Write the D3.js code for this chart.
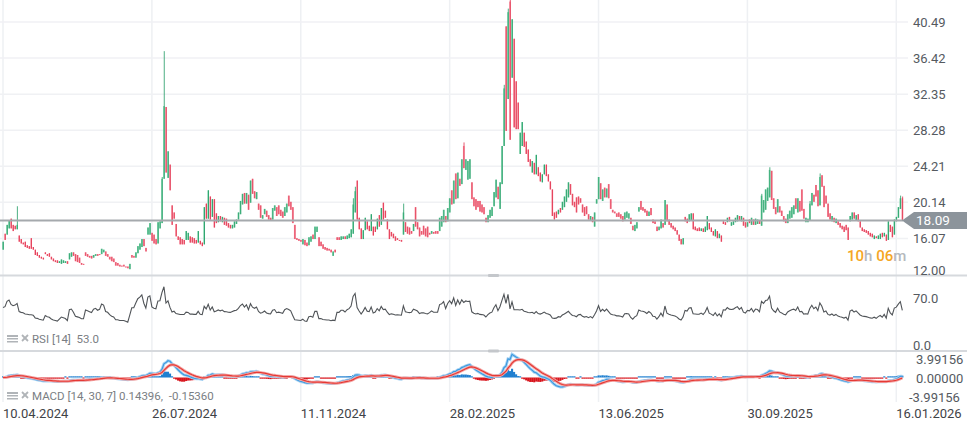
<!DOCTYPE html>
<html><head><meta charset="utf-8">
<script src="https://cdn.jsdelivr.net/npm/d3@7"></script>
<style>
html,body{margin:0;padding:0;background:#fff;overflow:hidden;}
svg{display:block;font-family:Roboto,"Noto Sans",sans-serif;}
</style>
</head><body>
<svg id="chart" width="967" height="427"></svg>
<script>
// ---- DATA (daily candles) ----
const openP = [
14.8,16.6,16.5,17.2,18.3,17.6,17.5,17.1,16.4,16.0, 15.6,15.7,15.3,15.2,16.1,15.1,14.8,14.5,14.2,14.0,
13.9,14.5,14.3,14.4,14.0,13.8,13.6,13.6,13.3,13.2, 13.3,13.3,13.5,13.7,14.0,14.5,14.3,14.2,13.9,13.3,
13.2,14.5,14.3,14.1,14.1,13.9,14.1,14.3,14.3,14.3, 14.5,14.6,14.3,14.0,14.0,13.8,13.4,13.3,13.1,13.0,
13.1,12.9,12.9,12.6,14.2,14.1,13.9,14.4,14.8,15.1, 16.0,15.0,16.5,16.5,16.7,16.5,16.0,15.5,17.2,17.8,
22.8,30.9,22.9,24.4,19.8,19.0,17.7,16.3,16.2,16.0, 15.9,15.9,15.9,16.3,16.2,16.1,15.9,15.6,15.8,15.6,
15.4,20.0,18.3,20.8,18.5,20.5,18.9,17.9,18.6,17.9, 18.4,18.3,17.8,17.6,17.2,17.3,17.7,18.2,18.8,19.9,
21.2,20.0,21.0,20.1,22.8,21.4,20.5,20.0,19.8,18.3, 18.8,19.2,18.7,18.4,18.2,19.2,19.6,19.8,19.3,19.1,
18.6,19.0,20.9,20.2,19.6,17.6,16.1,16.0,15.9,15.4, 15.9,15.6,15.3,15.7,16.5,16.0,16.8,16.2,15.7,15.4,
15.1,15.0,14.9,14.8,14.1,14.8,16.2,16.2,15.9,16.0, 16.3,16.0,16.1,16.2,16.6,19.0,22.6,18.4,17.2,16.0,
17.0,18.0,17.5,16.9,17.4,17.4,17.1,18.7,17.6,20.1, 19.2,18.2,17.1,16.8,16.6,16.3,16.1,15.9,15.9,16.5,
17.9,17.4,17.3,16.9,16.9,19.6,17.9,17.3,16.9,17.5, 17.2,17.4,16.7,16.6,16.8,16.9,16.9,16.9,17.4,17.9,
18.6,18.0,19.0,21.5,20.0,23.4,20.6,22.8,22.2,26.5, 23.8,22.7,22.8,22.4,20.7,20.5,20.3,20.3,19.9,19.6,
18.4,17.9,18.4,18.6,19.7,20.7,21.9,19.4,22.2,26.5, 40.0,31.8,42.8,34.2,38.6,33.8,31.4,25.6,26.5,28.0,
27.0,26.1,25.0,23.5,24.6,23.3,24.1,23.5,22.4,23.3, 24.4,23.3,22.5,21.6,19.0,19.1,18.8,19.5,19.3,19.6,
20.2,20.7,22.2,21.1,20.2,20.7,20.8,20.6,19.9,19.6, 19.7,18.8,18.1,18.5,17.4,20.0,20.5,22.3,20.3,21.8,
20.7,22.2,20.5,19.3,19.1,18.9,19.0,18.8,18.6,18.2, 18.4,18.3,18.4,17.5,16.9,17.2,19.1,20.3,19.6,19.4,
19.2,18.6,19.5,18.2,18.0,17.4,17.0,17.2,17.8,17.6, 19.9,18.2,17.8,17.5,17.3,17.0,16.5,16.0,15.4,18.5,
18.3,18.0,18.1,18.9,17.4,17.2,17.3,16.9,17.2,16.8, 17.0,17.8,17.3,16.9,16.3,16.9,16.1,16.4,18.0,17.9,
17.9,18.5,17.5,17.6,17.9,18.0,18.6,18.0,18.4,17.9, 17.4,18.2,17.6,18.2,17.6,17.7,18.1,17.5,19.0,19.3,
20.3,20.7,23.7,20.6,19.6,19.0,19.7,19.2,18.6,18.3, 17.8,18.3,18.4,18.8,20.6,19.0,20.3,21.6,19.4,17.9,
17.9,18.1,19.8,21.0,22.1,21.5,19.8,23.2,22.0,20.9, 20.0,18.9,18.0,18.4,17.8,18.0,17.8,17.5,17.4,17.6,
17.3,18.0,18.2,19.0,18.1,18.8,18.0,17.3,17.1,17.0, 16.9,16.7,16.6,16.0,16.3,16.0,16.0,16.7,16.3,16.5,
15.9,17.6,17.4,16.5,18.0,18.4,19.4,20.6
];
const closeP = [
15.7,15.9,17.6,18.1,17.2,16.9,17.1,17.6,15.7,15.5, 15.4,15.1,15.0,14.9,14.9,14.8,14.2,14.1,13.9,13.8,
13.7,14.3,14.1,14.0,13.7,13.5,13.4,13.3,13.5,13.7, 13.6,13.5,13.2,14.4,14.5,14.1,13.5,13.4,13.3,13.1,
13.1,14.1,14.0,13.9,13.8,14.2,14.3,14.1,14.2,14.9, 14.8,14.1,14.0,13.7,13.5,13.4,13.0,13.0,12.9,12.9,
12.9,12.8,12.7,13.2,13.9,13.9,14.5,15.2,15.5,16.0, 15.2,14.6,17.3,17.8,15.8,15.5,15.4,17.9,18.0,22.8,
31.0,23.5,25.9,21.5,17.6,18.3,16.3,15.9,15.4,15.4, 15.4,16.9,16.7,15.6,15.6,15.5,15.5,16.9,15.4,15.2,
19.6,18.3,21.5,18.2,20.5,17.3,17.8,18.6,18.0,18.5, 17.6,17.5,17.3,17.2,17.6,18.0,18.2,19.0,20.3,21.1,
20.0,21.2,19.3,22.6,21.1,20.6,21.3,19.3,18.4,18.7, 19.4,18.5,18.2,18.1,19.5,19.8,18.6,18.8,18.6,18.4,
19.6,20.0,19.7,19.3,17.8,16.0,15.9,15.8,15.7,16.0, 15.3,15.2,16.2,16.3,16.0,17.4,17.4,15.2,15.2,14.9,
14.8,14.7,14.7,14.5,14.6,14.5,15.9,15.9,16.3,16.3, 16.0,16.4,16.6,17.1,19.9,21.4,18.2,17.1,16.0,17.0,
18.4,17.1,16.9,18.8,16.4,16.8,18.3,17.4,19.5,18.2, 18.4,17.1,16.0,16.3,16.1,15.8,15.9,15.8,15.7,19.0,
16.8,16.6,16.5,16.6,17.7,17.4,17.1,16.3,16.5,16.5, 16.3,16.2,16.5,16.9,16.6,16.6,16.6,18.4,18.6,19.3,
17.9,19.5,20.6,19.9,22.6,20.5,23.5,22.0,25.0,24.0, 25.0,24.8,25.0,20.5,19.7,19.3,19.6,19.1,19.0,18.8,
17.9,18.7,19.3,19.6,21.3,22.7,20.5,22.4,26.5,33.0, 28.2,41.6,27.2,40.8,28.6,28.4,28.4,28.0,29.2,26.4,
25.6,24.7,24.2,24.8,23.3,25.5,23.1,22.5,23.3,24.4, 23.1,22.5,21.6,18.6,18.2,18.4,19.3,19.0,20.2,20.8,
21.6,22.4,21.0,19.8,19.6,19.0,19.9,20.1,19.0,18.6, 18.8,18.2,18.6,17.9,19.0,20.5,23.0,20.5,21.6,20.7,
21.7,20.6,19.4,19.0,18.9,18.5,18.5,18.3,18.0,19.0, 19.1,18.9,17.7,17.0,17.6,17.9,19.6,19.3,19.2,19.0,
18.6,19.1,18.7,17.8,17.7,16.9,17.4,18.2,17.3,20.4, 18.0,17.6,17.3,17.1,16.9,16.5,15.8,15.4,16.1,18.0,
17.8,18.8,18.9,17.1,17.0,16.9,16.9,17.2,16.8,17.4, 18.6,17.1,16.8,16.4,17.1,16.1,16.6,15.7,17.7,17.6,
18.4,18.0,17.9,18.0,18.4,18.7,18.1,18.6,17.5,17.3, 17.9,17.8,18.4,17.6,18.3,18.2,17.7,20.9,20.4,21.6,
21.8,23.8,20.4,19.4,18.8,20.5,19.0,18.6,18.0,17.8, 18.8,19.2,19.6,19.8,19.4,20.6,19.1,19.2,18.3,18.4,
18.3,20.0,21.2,20.2,20.8,19.7,23.0,21.9,19.6,20.0, 18.5,18.2,18.6,17.9,18.3,17.6,17.3,17.1,16.8,17.0,
15.9,18.6,19.0,18.3,18.7,18.0,17.3,16.9,16.8,16.7, 16.5,16.3,16.2,16.4,16.1,16.4,16.6,16.2,16.7,15.8,
18.0,16.8,16.2,18.2,18.5,19.6,20.6,18.09
];
// upper wicks visible beyond the bodies: [candle index, high]
const wickHighs = [[7,19.7],[79,23.0],[80,37.2],[174,20.6],[175,21.9],[199,20.0],[229,26.9],
  [249,33.4],[251,42.0],[252,43.6],[377,21.1],[381,24.1],[401,20.3],[406,23.4],[446,20.9],[447,20.8]];

const priceTicks = [12.00,16.07,20.14,24.21,28.28,32.35,36.42,40.49];
const priceLabels = ["12.00","16.07","20.14","24.21","28.28","32.35","36.42","40.49"];
const dateTickIdx = [0,74,148,222,296,370,444];
const dateLabels = ["10.04.2024","26.07.2024","11.11.2024","28.02.2025","13.06.2025","30.09.2025","16.01.2026"];
const lastPrice = 18.09, lastLabel = "18.09";
const rsiTicks = [70,0], rsiLabels = ["70.0","0.0"];
const rsiStart = 56;               // RSI level shown at the left edge
const macdRange = 3.99156;          // MACD panel half-range
const macdTicks = [3.99156,0,-3.99156], macdLabels = ["3.99156","0.00000","-3.99156"];
const rsiLegend = "RSI [14]  53.0";
const macdLegend = "MACD [14, 30, 7] 0.14396,  -0.15360";
const countdown = [["10","#f5a623"],["h ","#b5b9bd"],["06","#f5a623"],["m","#b5b9bd"]];

// ---- INDICATORS derived from the close series ----
function ema(arr, n){ const k=2/(n+1); let e=arr[0]; return arr.map((v,i)=> (e = i===0 ? v : v*k + e*(1-k))); }
function rsi(c, n, start){
  // Wilder smoothing, seeded so that the first value equals `start`
  let g=0.3*start/50, l=0.3*(100-start)/50;
  const out=[start];
  for(let i=1;i<c.length;i++){
    const d=c[i]-c[i-1], up=Math.max(d,0), dn=Math.max(-d,0);
    g=(g*(n-1)+up)/n; l=(l*(n-1)+dn)/n;
    out.push(l===0 ? 100 : 100 - 100/(1+g/l));
  }
  return out;
}
const rsiVals = rsi(closeP, 14, rsiStart);
const e14 = ema(closeP,14), e30 = ema(closeP,30);
const macd = e14.map((v,i)=>v-e30[i]);
const signal = ema(macd,7);
const hist = macd.map((v,i)=>v-signal[i]);

// ---- SCALES ----
const W=967, plotR=905;
const x = d3.scaleLinear().domain([0,444]).range([3,896.3]);
const y = d3.scaleLinear().domain([12,40.49]).range([274.5,22]);
const yR = d3.scaleLinear().domain([0,70]).range([345,298]);
const yM = d3.scaleLinear().domain([-macdRange,macdRange]).range([403,352]);

const svg = d3.select("#chart");
const defs = svg.append("defs");
defs.append("clipPath").attr("id","cMain").append("rect").attr("x",0).attr("y",0).attr("width",plotR).attr("height",274);
defs.append("clipPath").attr("id","cRsi").append("rect").attr("x",0).attr("y",277).attr("width",plotR).attr("height",73);
defs.append("clipPath").attr("id","cMacd").append("rect").attr("x",0).attr("y",352).attr("width",plotR).attr("height",50);

// grid
svg.append("g").selectAll("line").data(dateTickIdx).join("line")
  .attr("x1",d=>x(d)).attr("x2",d=>x(d)).attr("y1",0).attr("y2",402)
  .attr("stroke","#eef0f3").attr("stroke-width",1.5);
svg.append("g").selectAll("line").data(priceTicks.slice(1)).join("line")
  .attr("x1",0).attr("x2",908).attr("y1",d=>y(d)).attr("y2",d=>y(d))
  .attr("stroke","#f0f1f4").attr("stroke-width",1.5);
// separators
[275.5,351].forEach(v=>svg.append("line").attr("x1",0).attr("x2",W).attr("y1",v).attr("y2",v)
  .attr("stroke","#d6d9dd").attr("stroke-width",2));
[275.5,351].forEach(v=>svg.append("rect").attr("x",488).attr("y",v-1.5).attr("width",11).attr("height",3)
  .attr("rx",1).attr("fill","#c4c7cb"));

// candles
const idx = d3.range(openP.length);
const hiMap = new Map(wickHighs);
const gC = svg.append("g").attr("clip-path","url(#cMain)");
gC.selectAll("rect").data(idx).join("rect")
  .attr("x",i=>x(i)-0.8).attr("width",1.6)
  .attr("y",i=>y(Math.max(openP[i],closeP[i])))
  .attr("height",i=>Math.max(1,Math.abs(y(openP[i])-y(closeP[i]))))
  .attr("fill",i=>closeP[i]>=openP[i] ? "#74cfa4" : "#f7899a");
gC.selectAll("line").data(idx).join("line")
  .attr("x1",i=>x(i)+0.3).attr("x2",i=>x(i)+0.3)
  .attr("y1",i=>y(hiMap.has(i)?hiMap.get(i):Math.max(openP[i],closeP[i])))
  .attr("y2",i=>y(Math.min(openP[i],closeP[i])))
  .attr("stroke",i=>closeP[i]>=openP[i] ? "#1f9a63" : "#e0304b")
  .attr("stroke-width",0.8);

// last price line + tag
svg.append("line").attr("x1",0).attr("x2",903).attr("y1",y(lastPrice)).attr("y2",y(lastPrice))
  .attr("stroke","#a5a9ad").attr("stroke-width",2);
const ty=y(lastPrice);
svg.append("path").attr("d",`M902,${ty} L914,${ty-8.5} L967,${ty-8.5} L967,${ty+8.5} L914,${ty+8.5} Z`).attr("fill","#8c949b");
svg.append("text").attr("x",916).attr("y",ty+4.8).attr("fill","#fff").attr("font-size",13.5).text(lastLabel);

// price axis labels
svg.append("g").selectAll("text").data(priceTicks).join("text")
  .attr("x",913).attr("y",(d,i)=> i===0 ? 274.5 : y(d)+4.6)
  .attr("font-size",13).attr("fill","#555a5f").text((d,i)=>priceLabels[i]);

// countdown
const cd = svg.append("text").attr("x",847).attr("y",261).attr("font-size",15).attr("font-weight",500);
countdown.forEach(([t,c])=>cd.append("tspan").attr("fill",c).text(t));

// RSI
svg.append("path").datum(idx).attr("clip-path","url(#cRsi)")
  .attr("d",d3.line().x(i=>x(i)).y(i=>yR(rsiVals[i])))
  .attr("fill","none").attr("stroke","#505458").attr("stroke-width",1.1);
svg.append("g").selectAll("text").data(rsiTicks).join("text")
  .attr("x",913).attr("y",d=>yR(d)+4.6).attr("font-size",13).attr("fill","#555a5f")
  .text((d,i)=>rsiLabels[i]);

// MACD
const gM = svg.append("g").attr("clip-path","url(#cMacd)");
gM.selectAll("rect").data(idx).join("rect")
  .attr("x",i=>x(i)-1).attr("width",2.1)
  .attr("y",i=> hist[i]>=0 ? Math.min(yM(0)-1.2, yM(hist[i])) : yM(0))
  .attr("height",i=> Math.max(1.2, Math.abs(yM(hist[i])-yM(0))))
  .attr("fill",i=> hist[i]>=0 ? "#1e7fd0" : "#d8141c");
const lineM = d3.line().x(i=>x(i));
[[macd,"#3d9be0","#a9d3f3"],[signal,"#e53935","#f4a9a8"]].forEach(([arr,c,h])=>{
  gM.append("path").datum(idx).attr("d",lineM.y(i=>yM(arr[i]))).attr("fill","none")
    .attr("stroke",h).attr("stroke-width",3);
  gM.append("path").datum(idx).attr("d",lineM.y(i=>yM(arr[i]))).attr("fill","none")
    .attr("stroke",c).attr("stroke-width",1.2);
});
svg.append("g").selectAll("text").data(macdTicks).join("text")
  .attr("x",(d,i)=> i===2 ? 909 : 916).attr("y",(d,i)=>[363.5,382.5,401.5][i]).attr("font-size",13).attr("fill","#555a5f")
  .text((d,i)=>macdLabels[i]);

// legends
function legend(yb, txt){
  const g=svg.append("g").attr("fill","#b0b4b8").attr("stroke","#b0b4b8");
  g.append("rect").attr("x",7).attr("y",yb-8).attr("width",11).attr("height",2).attr("stroke","none");
  g.append("rect").attr("x",7).attr("y",yb-5).attr("width",11).attr("height",1.5).attr("stroke","none");
  g.append("rect").attr("x",7).attr("y",yb-2).attr("width",11).attr("height",1.5).attr("stroke","none");
  g.append("line").attr("x1",22).attr("x2",28).attr("y1",yb-8).attr("y2",yb-2).attr("stroke-width",1.8);
  g.append("line").attr("x1",28).attr("x2",22).attr("y1",yb-8).attr("y2",yb-2).attr("stroke-width",1.8);
  svg.append("text").attr("x",32).attr("y",yb).attr("font-size",11.5).attr("fill","#7a7e83")
    .attr("xml:space","preserve").style("white-space","pre").text(txt);
}
legend(343, rsiLegend);
legend(400, macdLegend);

// date labels
svg.append("g").selectAll("text").data(dateTickIdx).join("text")
  .attr("x",d=>x(d)).attr("y",418).attr("font-size",13).attr("fill","#3f4347")
  .text((d,i)=>dateLabels[i]);
</script>
</body></html>
